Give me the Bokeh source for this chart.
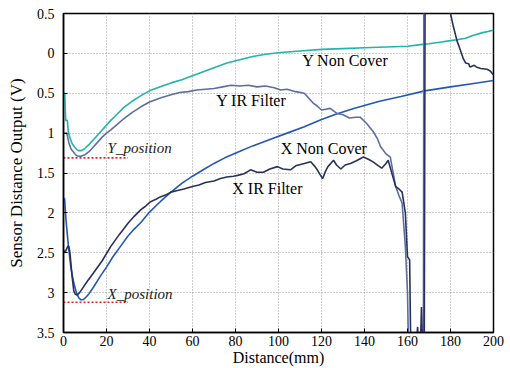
from bokeh.plotting import figure
from bokeh.models import Range1d, FixedTicker
from bokeh.core.properties import value
from bokeh.embed import file_html
from bokeh.resources import INLINE

# ---------------- data ----------------
x_ticks = [0, 20, 40, 60, 80, 100, 120, 140, 160, 180, 200]
x_tick_labels = ["0", "20", "40", "60", "80", "100", "120", "140", "160", "180", "200"]
y_ticks = [-0.5, 0, 0.5, 1, 1.5, 2, 2.5, 3, 3.5]
y_tick_labels = ["0.5", "0", "0.5", "1", "1.5", "2", "2.5", "3", "3.5"]

y_non_d = [0, 0.6, 1, 1.8, 2.2, 3, 4, 5, 6, 7, 8, 9, 10, 12, 14, 16, 18, 20, 22, 25, 28,
           32, 36, 40, 45, 50, 55, 60, 65, 70, 76, 82, 88, 94, 101, 110, 120, 130, 140,
           150, 160, 166, 170, 175, 180, 183, 187, 190, 195, 200]
y_non_v = [0.5, 0.5, 0.84, 0.84, 0.98, 1.06, 1.13, 1.17, 1.2, 1.22, 1.22, 1.21, 1.19, 1.14,
           1.08, 1.02, 0.96, 0.9, 0.84, 0.76, 0.68, 0.6, 0.53, 0.47, 0.42, 0.37, 0.33, 0.28,
           0.23, 0.18, 0.12, 0.08, 0.04, 0.01, -0.01, -0.03, -0.05, -0.06, -0.07, -0.08,
           -0.09, -0.11, -0.12, -0.14, -0.16, -0.17, -0.19, -0.22, -0.26, -0.29]

y_ir_d = [0, 1.5, 2.5, 3.5, 5, 6, 7, 8, 9, 10, 12, 14, 16, 18, 20, 22, 25, 28, 32, 36, 40,
          45, 50, 54, 58, 62, 66, 70, 74, 78, 82, 86, 90, 94, 98, 101, 104, 108, 112, 114,
          116, 118, 120, 122, 124, 127, 130, 133, 136, 138, 141, 144, 146, 147.5, 150, 152,
          154.5, 156, 157.5, 159, 160, 160.5, 163, 166, 167.4, 167.6, 200]
y_ir_v = [1.0, 1.0, 1.12, 1.2, 1.25, 1.28, 1.29, 1.29, 1.28, 1.27, 1.23, 1.17, 1.11, 1.05,
          1.0, 0.96, 0.89, 0.82, 0.74, 0.67, 0.61, 0.56, 0.52, 0.49, 0.48, 0.46, 0.45, 0.44,
          0.42, 0.40, 0.41, 0.40, 0.42, 0.41, 0.43, 0.46, 0.45, 0.48, 0.5, 0.56, 0.62, 0.66,
          0.71, 0.70, 0.69, 0.75, 0.77, 0.81, 0.80, 0.80, 0.88, 0.98, 1.07, 1.17, 1.26, 1.30,
          1.67, 1.78, 1.88, 2.42, 3.0, 3.7, 3.7, 3.7, 3.7, -1.0, -1.0]

x_non_d = [0, 0.5, 1.2, 2.3, 3.5, 4.8, 6, 7, 8, 9, 10, 12, 14, 17, 20, 23, 26.5, 30, 33, 36,
           40, 45, 50, 55, 60, 65, 70, 75, 81, 88, 96, 104, 112, 120, 127, 135, 147, 157,
           168, 180, 190, 200]
x_non_v = [1.82, 1.82, 2.1, 2.42, 2.7, 2.88, 3.0, 3.06, 3.09, 3.09, 3.07, 3.01, 2.93, 2.8,
           2.68, 2.55, 2.42, 2.29, 2.2, 2.12, 1.99, 1.86, 1.74, 1.63, 1.54, 1.46, 1.38, 1.31,
           1.24, 1.16, 1.08, 1.0, 0.92, 0.83, 0.76, 0.69, 0.6, 0.54, 0.47, 0.42, 0.38, 0.34]

x_ir_d = [0, 1, 2, 2.5, 3, 4, 4.8, 5.5, 6.4, 7.5, 9, 11, 14, 18, 22, 26, 30, 33, 36, 38,
          40.5, 43, 45, 48, 50, 53, 56, 60, 63, 66, 70, 73, 76, 79, 81, 84, 87, 90, 93, 96,
          99.5, 102, 105.6, 108, 112, 115, 117, 118, 120.5, 122, 123, 125.6, 127, 129, 131,
          133.5, 136, 139.5, 142, 144, 146, 148, 150, 151, 153, 154.5, 156, 157.5, 159, 160,
          161, 161.4, 162, 164, 164.7, 165.2, 166, 166.5, 167, 167.8, 168.2, 178, 180,
          181.4, 183, 184.6, 186, 187, 188.5, 189, 190, 191, 192, 194, 197, 198.5, 200]
x_ir_v = [2.48, 2.48, 2.42, 2.42, 2.5, 2.8, 2.98, 3.02, 3.03, 3.0, 2.94, 2.86, 2.75, 2.6,
          2.42, 2.27, 2.13, 2.04, 1.96, 1.92, 1.86, 1.83, 1.8, 1.77, 1.74, 1.72, 1.7, 1.67,
          1.65, 1.62, 1.6, 1.57, 1.55, 1.54, 1.53, 1.51, 1.46, 1.49, 1.49, 1.45, 1.42, 1.45,
          1.46, 1.41, 1.38, 1.36, 1.42, 1.46, 1.57, 1.47, 1.42, 1.34, 1.4, 1.45, 1.4, 1.38,
          1.35, 1.3, 1.33, 1.36, 1.4, 1.44, 1.38, 1.34, 1.53, 1.67, 1.70, 1.74, 2.0, 2.55,
          2.59, 3.46, 3.7, 3.7, 3.43, 3.7, 3.7, 3.18, 3.7, 3.7, -1.0, -1.0, -0.5, -0.33,
          -0.16, -0.04, 0.07, 0.12, 0.13, 0.17, 0.16, 0.15, 0.17, 0.19, 0.2, 0.22, 0.27]

pos_names = ["Y_position", "X_position"]
pos_levels = [1.31, 3.12]
pos_extent = [0, 30]

series_names = ["Y Non Cover", "Y IR Filter", "X Non Cover", "X IR Filter"]
series_label_d = [111, 71, 101, 78.5]
series_label_v = [0.09, 0.59, 1.19, 1.69]
pos_label_d = [20.5, 20.5]
pos_label_v = [1.19, 3.02]

# ---------------- figure ----------------
FONT = "Liberation Serif"
p = figure(width=510, height=368, x_range=Range1d(0, 200), y_range=Range1d(3.5, -0.5),
           output_backend="svg", toolbar_location=None,
           min_border_left=63, min_border_right=17, min_border_top=13, min_border_bottom=36)
p.background_fill_color = "white"
p.border_fill_color = "white"
p.outline_line_color = "black"
p.outline_line_width = 1.5
p.outline_line_alpha = 1.0

p.xaxis.ticker = FixedTicker(ticks=x_ticks)
p.yaxis.ticker = FixedTicker(ticks=y_ticks)
p.xaxis.major_label_overrides = {t: l for t, l in zip(x_ticks, x_tick_labels)}
p.yaxis.major_label_overrides = {t: l for t, l in zip(y_ticks, y_tick_labels)}

for ax in (p.xaxis, p.yaxis):
    ax.axis_line_color = "black"
    ax.axis_line_width = 1.5
    ax.major_tick_in = 4
    ax.major_tick_out = 0
    ax.minor_tick_line_color = None
    ax.major_tick_line_color = "black"
    ax.major_label_text_font = FONT
    ax.major_label_text_font_size = "14px"
    ax.major_label_text_color = "black"
    ax.axis_label_text_font = FONT
    ax.axis_label_text_font_style = "normal"
    ax.axis_label_text_color = "black"

p.xaxis.axis_label = "Distance(mm)"
p.yaxis.axis_label = "Sensor Distance Output (V)"
p.xaxis.axis_label_text_font_size = "16px"
p.yaxis.axis_label_text_font_size = "17px"
p.xaxis.major_label_standoff = 3
p.xaxis.axis_label_standoff = 0
p.yaxis.major_label_standoff = 9
p.yaxis.axis_label_standoff = 8

p.xgrid.ticker = FixedTicker(ticks=x_ticks)
p.ygrid.ticker = FixedTicker(ticks=y_ticks)
p.grid.grid_line_color = "#9a9a9a"
p.grid.grid_line_dash = "1 2"
p.grid.grid_line_width = 1

# ---------------- series ----------------
LW = 1.6
p.line(y_non_d, y_non_v, line_color="#22b3a9", line_width=LW)
p.line(x_non_d, x_non_v, line_color="#2457b3", line_width=LW)
p.line(y_ir_d, y_ir_v, line_color="#5b6e9e", line_width=LW)
p.line(x_ir_d, x_ir_v, line_color="#27315c", line_width=LW)

for lvl in pos_levels:
    p.line(pos_extent, [lvl, lvl], line_color="#e3231b", line_width=1.6, line_dash="2 2")

p.text(x=series_label_d, y=series_label_v, text=series_names, text_font=value(FONT),
       text_font_size="16px", text_color="black", text_baseline="middle", text_align="left")
p.text(x=pos_label_d, y=pos_label_v, text=pos_names, text_font=value(FONT),
       text_font_size="15px", text_font_style="italic", text_color="#222222",
       text_baseline="middle", text_align="left")

open("out.html", "w").write(file_html(p, INLINE))
